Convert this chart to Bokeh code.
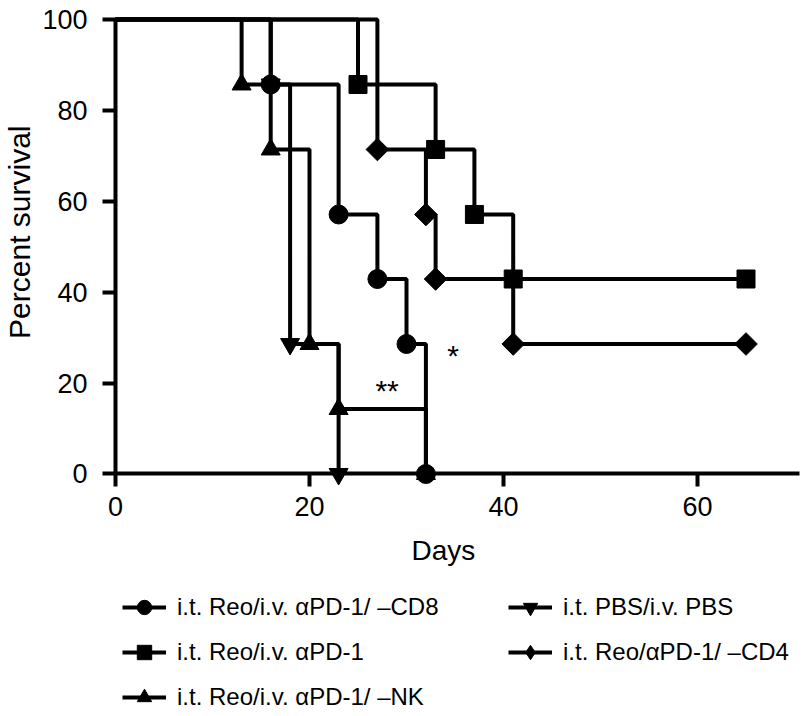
from bokeh.plotting import figure
from bokeh.models import Range1d, Legend, LegendItem, FixedTicker, Label
from bokeh.embed import file_html
from bokeh.resources import INLINE
import math

# ---- data (Kaplan-Meier steps) ----
days_cd8 = [0, 16, 23, 27, 30, 32]
surv_cd8 = [100, 85.7, 57.1, 42.9, 28.6, 0]

days_pbs = [0, 16, 18, 23]
surv_pbs = [100, 85.7, 28.6, 0]

days_pd1 = [0, 25, 33, 37, 41, 65]
surv_pd1 = [100, 85.7, 71.4, 57.1, 42.9, 42.9]

days_cd4 = [0, 27, 32, 33, 41, 65]
surv_cd4 = [100, 71.4, 57.1, 42.9, 28.6, 28.6]

days_nk = [0, 13, 16, 20, 23, 32]
surv_nk = [100, 85.7, 71.4, 28.6, 14.3, 0]

labels = ["i.t. Reo/i.v. \u03b1PD-1/ \u2013CD8",
          "i.t. PBS/i.v. PBS",
          "i.t. Reo/i.v. \u03b1PD-1",
          "i.t. Reo/\u03b1PD-1/ \u2013CD4",
          "i.t. Reo/i.v. \u03b1PD-1/ \u2013NK"]

x_ticks = [0, 20, 40, 60]
y_ticks = [0, 20, 40, 60, 80, 100]
x_title = "Days"
y_title = "Percent survival"

sig_text = ["**", "*"]
sig_x = [28.0, 34.8]
sig_y = [18.4, 26.1]

FONT = "Liberation Sans"

W, H = 804, 716
# frame covers the whole canvas; axes are pinned at 0 so the zero-level markers are not cut
p = figure(width=W, height=H, output_backend="svg", toolbar_location=None,
           x_range=Range1d(-11.856, 71.03), y_range=Range1d(-53.36, 104.18),
           min_border_left=0, min_border_top=0, min_border_right=0,
           min_border_bottom=0)
p.outline_line_color = None
p.grid.visible = False
p.background_fill_color = "white"
p.border_fill_color = "white"

for ax in (p.xaxis[0], p.yaxis[0]):
    ax.axis_line_width = 4
    ax.major_tick_line_width = 4
    ax.major_tick_in = 0
    ax.major_tick_out = 13
    ax.minor_tick_line_color = None
    ax.major_label_text_font = FONT
    ax.major_label_text_font_size = "27px"
    ax.major_label_text_color = "black"

p.xaxis.ticker = FixedTicker(ticks=x_ticks)
p.yaxis.ticker = FixedTicker(ticks=y_ticks)
p.xaxis.bounds = (0, 70.5)
p.yaxis.bounds = (0, 100)
p.xaxis.fixed_location = 0
p.yaxis.fixed_location = 0
p.xaxis.major_label_standoff = 10
p.yaxis.major_label_standoff = 15

p.add_layout(Label(x=33.8, y=-16.8, text=x_title, text_font=FONT, text_font_size="28px",
                   text_align="center", text_baseline="middle", text_color="black"))
p.add_layout(Label(x=-9.9, y=53.2, text=y_title, text_font=FONT, text_font_size="30px",
                   angle=math.pi / 2, text_align="center", text_baseline="middle",
                   text_color="black"))

series = [
    (days_cd8, surv_cd8, "circle", 19, 0),
    (days_pbs, surv_pbs, "inverted_triangle", 19, 0),
    (days_pd1, surv_pd1, "square", 18, 0),
    (days_cd4, surv_cd4, "square", 16, math.pi / 4),
    (days_nk, surv_nk, "triangle", 19, 0),
]

items = []
for (d, s, mk, sz, ang), lab in zip(series, labels):
    ln = p.step(d, s, mode="after", line_color="black", line_width=4)
    sc = p.scatter(d[1:], s[1:], marker=mk, size=sz, angle=ang,
                   fill_color="black", line_color="black", line_width=1)
    items.append([lab, ln, sc])

# legend swatch for the rotated-square series (legend swatches ignore marker angle)
leg_diamond = p.scatter(days_cd4[1:], surv_cd4[1:], marker="diamond", size=20,
                        fill_color="black", line_color="black", visible=False)
items[3][2] = leg_diamond

order = [0, 2, 4, 1, 3]
legend = Legend(items=[LegendItem(label=items[i][0], renderers=[items[i][1], items[i][2]]) for i in order],
                location=(122, 1), orientation="vertical", ncols=2,
                glyph_width=44, glyph_height=36, label_standoff=11, label_width=322,
                spacing=9, padding=0, margin=0,
                border_line_color=None, background_fill_alpha=0,
                label_text_font=FONT, label_text_font_size="24px", label_text_color="black")
p.add_layout(legend, "center")

for t, x, y in zip(sig_text, sig_x, sig_y):
    p.add_layout(Label(x=x, y=y, text=t, text_font=FONT, text_font_size="30px",
                       text_align="center", text_baseline="middle", text_color="black"))

open("out.html", "w").write(file_html(p, INLINE))
